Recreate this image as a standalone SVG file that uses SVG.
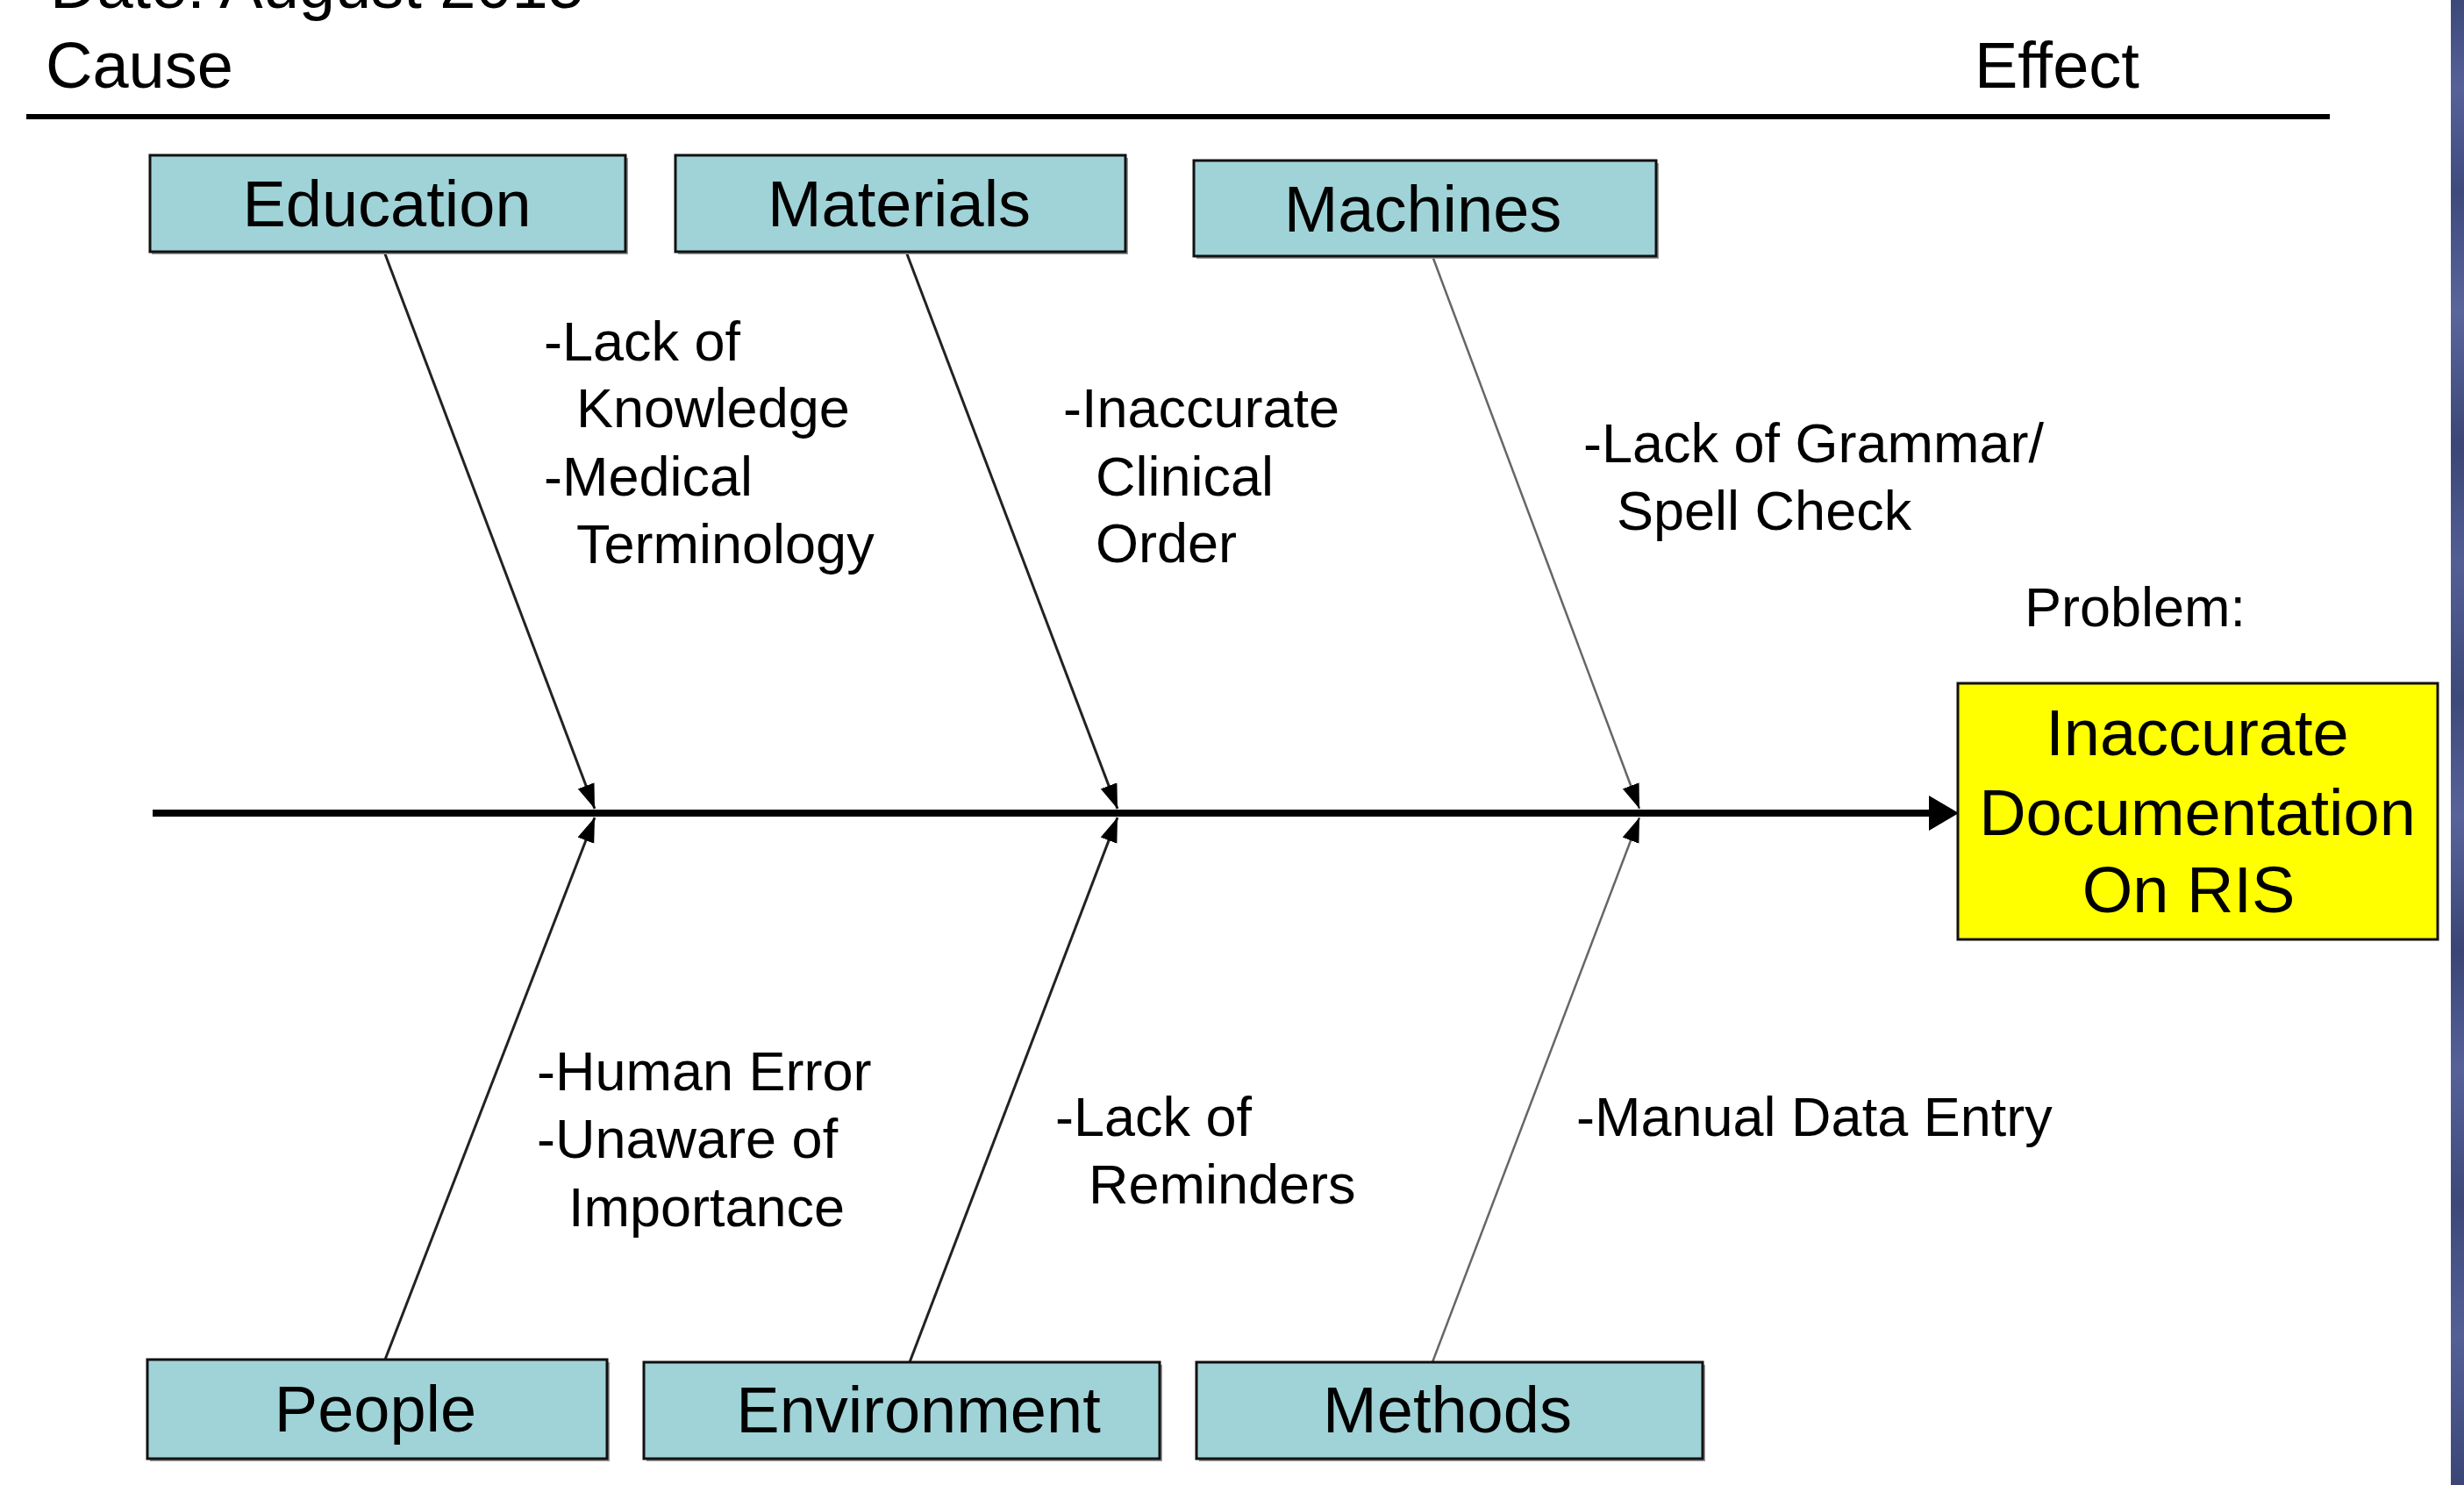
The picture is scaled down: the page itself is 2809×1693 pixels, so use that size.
<svg xmlns="http://www.w3.org/2000/svg" width="2809" height="1693" viewBox="0 0 2809 1693">
  <style>
    .t { font-family: "Liberation Sans", Arial, sans-serif; fill: #000; }
    .hdr { font-size: 74px; }
    .lbl { font-size: 74px; text-anchor: middle; }
    .note { font-size: 63px; }
    .cat { fill: #a0d3d7; stroke: #111; stroke-width: 3; }
    .shadow { fill: #9a9a9a; }
    .bone { stroke: #222; stroke-width: 3; fill: none; marker-end: url(#tip); }
    .bone.light { stroke: #666; stroke-width: 2.5; }
  </style>
  <defs>
    <marker id="tip" markerUnits="userSpaceOnUse" markerWidth="30" markerHeight="22" refX="28" refY="10" orient="auto">
      <path d="M0,0 L28,10 L0,20 Z" fill="#000"/>
    </marker>
    <linearGradient id="edge" x1="0" y1="0" x2="0" y2="1">
      <stop offset="0" stop-color="#3c4878"/>
      <stop offset="0.06" stop-color="#56619a"/>
      <stop offset="0.13" stop-color="#3e4a7c"/>
      <stop offset="0.21" stop-color="#5a659c"/>
      <stop offset="0.3" stop-color="#3b4676"/>
      <stop offset="0.38" stop-color="#535e95"/>
      <stop offset="0.47" stop-color="#3d4979"/>
      <stop offset="0.55" stop-color="#58639b"/>
      <stop offset="0.64" stop-color="#3a4575"/>
      <stop offset="0.72" stop-color="#56619a"/>
      <stop offset="0.81" stop-color="#3d4879"/>
      <stop offset="0.9" stop-color="#545f96"/>
      <stop offset="1" stop-color="#3b4677"/>
    </linearGradient>
  </defs>

  <rect x="0" y="0" width="2809" height="1693" fill="#fff"/>
  <!-- textured slide edge on the right -->
  <rect x="2794" y="0" width="15" height="1693" fill="url(#edge)"/>

  <!-- header -->
  <g id="header">
    <text class="t hdr" x="57" y="9">Date: August 2015</text>
    <text class="t hdr" x="52" y="100">Cause</text>
    <text class="t hdr" x="2251" y="100">Effect</text>
    <line x1="30" y1="133" x2="2656" y2="133" stroke="#000" stroke-width="6"/>
  </g>

  <!-- connectors: spine and bones -->
  <g id="connectors">
    <line x1="174" y1="927" x2="2204" y2="927" stroke="#000" stroke-width="8"/>
    <polygon points="2199,907 2233,927 2199,947" fill="#000"/>
    <line class="bone" x1="438" y1="287" x2="678" y2="922"/>
    <line class="bone" x1="1033" y1="287" x2="1274" y2="922"/>
    <line class="bone light" x1="1633" y1="292" x2="1869" y2="922"/>
    <line class="bone" x1="439" y1="1550" x2="678" y2="932"/>
    <line class="bone" x1="1037" y1="1553" x2="1274" y2="932"/>
    <line class="bone light" x1="1633" y1="1553" x2="1869" y2="932"/>
  </g>

  <!-- category nodes -->
  <g id="education">
    <rect class="shadow" x="173" y="180" width="543" height="110"/>
    <rect class="cat" x="171" y="177" width="542" height="110"/>
    <text class="t lbl" x="441" y="258">Education</text>
  </g>
  <g id="materials">
    <rect class="shadow" x="773" y="180" width="513" height="110"/>
    <rect class="cat" x="770" y="177" width="513" height="110"/>
    <text class="t lbl" x="1025" y="258">Materials</text>
  </g>
  <g id="machines">
    <rect class="shadow" x="1364" y="186" width="527" height="109"/>
    <rect class="cat" x="1361" y="183" width="527" height="109"/>
    <text class="t lbl" x="1622" y="264">Machines</text>
  </g>
  <g id="people">
    <rect class="shadow" x="171" y="1553" width="524" height="113"/>
    <rect class="cat" x="168" y="1550" width="524" height="113"/>
    <text class="t lbl" x="428" y="1632">People</text>
  </g>
  <g id="environment">
    <rect class="shadow" x="737" y="1556" width="588" height="110"/>
    <rect class="cat" x="734" y="1553" width="588" height="110"/>
    <text class="t lbl" x="1047" y="1633">Environment</text>
  </g>
  <g id="methods">
    <rect class="shadow" x="1367" y="1556" width="577" height="110"/>
    <rect class="cat" x="1364" y="1553" width="577" height="110"/>
    <text class="t lbl" x="1650" y="1633">Methods</text>
  </g>

  <!-- problem (effect) node -->
  <g id="problem">
    <text class="t note" x="2308" y="714">Problem:</text>
    <rect x="2232" y="779" width="547" height="292" fill="#ffff00" stroke="#111" stroke-width="3"/>
    <text class="t lbl" x="2505" y="861">Inaccurate</text>
    <text class="t lbl" x="2505" y="952">Documentation</text>
    <text class="t lbl" x="2495" y="1040">On RIS</text>
  </g>

  <!-- cause notes -->
  <g id="notes-education">
    <text class="t note" x="620" y="411">-Lack of</text>
    <text class="t note" x="657" y="487">Knowledge</text>
    <text class="t note" x="620" y="565">-Medical</text>
    <text class="t note" x="657" y="642">Terminology</text>
  </g>
  <g id="notes-materials">
    <text class="t note" x="1212" y="487">-Inaccurate</text>
    <text class="t note" x="1249" y="565">Clinical</text>
    <text class="t note" x="1249" y="641">Order</text>
  </g>
  <g id="notes-machines">
    <text class="t note" x="1805" y="527">-Lack of Grammar/</text>
    <text class="t note" x="1843" y="604">Spell Check</text>
  </g>
  <g id="notes-people">
    <text class="t note" x="612" y="1243">-Human Error</text>
    <text class="t note" x="612" y="1320">-Unaware of</text>
    <text class="t note" x="648" y="1398">Importance</text>
  </g>
  <g id="notes-environment">
    <text class="t note" x="1203" y="1295">-Lack of</text>
    <text class="t note" x="1241" y="1372">Reminders</text>
  </g>
  <g id="notes-methods">
    <text class="t note" x="1797" y="1295">-Manual Data Entry</text>
  </g>
</svg>
